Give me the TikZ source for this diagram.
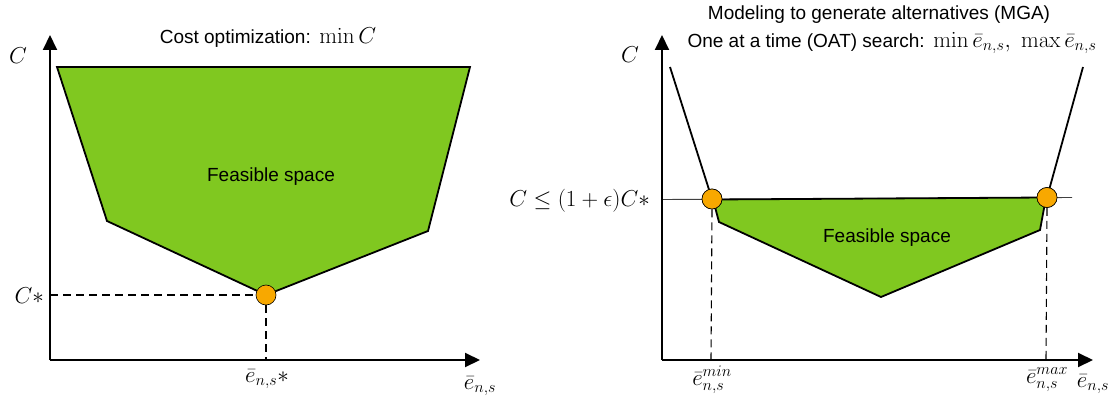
\RequirePackage{fix-cm}
\documentclass[tikz,border=0pt]{standalone}
\usepackage[no-math]{fontspec}
\setmainfont{Liberation Sans}
\usetikzlibrary{arrows.meta}
\definecolor{feas}{RGB}{128,200,32}
\definecolor{dotc}{RGB}{248,168,0}
\newcommand{\txt}[1]{{\fontsize{19}{22}\selectfont #1}}
\begin{document}
\begin{tikzpicture}[x=1pt,y=-1pt,
  axisline/.style={line width=2pt,-{Triangle[length=15pt,width=14pt]}},
  region/.style={fill=feas,draw=black,line width=1.8pt,line join=miter},
  bound/.style={line width=1.8pt},
  guide/.style={line width=1.1pt,dash pattern=on 8pt off 5pt},
  thinline/.style={line width=0.9pt,draw=black!75},
  dot/.style={circle,fill=dotc,draw=black,line width=0.6pt,minimum size=20pt,inner sep=0pt},
  mlabel/.style={font=\fontsize{23}{26}\selectfont,inner sep=0pt},
  tlabel/.style={font=\fontsize{23}{26}\selectfont,inner sep=0pt}
]
\useasboundingbox (0,0) rectangle (1111,401);

% ---------------- Left panel ----------------
\coordinate (LO) at (50,360);
\coordinate (LYt) at (50,35);
\coordinate (LXt) at (480,360);
\coordinate (a1) at (57,67);
\coordinate (a2) at (470,67);
\coordinate (a3) at (428,231);
\coordinate (a4) at (266,295);
\coordinate (a5) at (107,221);
\coordinate (LCs) at (50,295);
\coordinate (LXs) at (266,360);

\draw[region] (a1) -- (a2) -- (a3) -- (a4) -- (a5) -- cycle;
\node at (271,177) {\txt{Feasible space}};
\draw[axisline] (LO) -- (LYt);
\draw[axisline] (LO) -- (LXt);
\node[dot] (opt) at (266,295) {};
\draw[guide] (LCs) -- (opt.west);
\draw[guide] (opt.south) -- (LXs);

\node[tlabel] (ltitle) at (268,38) {\txt{Cost optimization:} $\min C$};
\node[mlabel] (lC) at (18,56) {$C$};
\node[mlabel,anchor=east] (lCs) at (44,296) {$C\ast$};
\node[mlabel] (lens) at (267,379) {$\bar e_{n,s}\ast$};
\node[mlabel] (lx) at (480,386) {$\bar e_{n,s}$};

% ---------------- Right panel ----------------
\coordinate (RO) at (662,360);
\coordinate (RYt) at (662,35);
\coordinate (RXt) at (1093,360);
\coordinate (h1) at (662,199.5);
\coordinate (h2) at (1072,197.5);
\coordinate (b1) at (713,199.5);
\coordinate (b2) at (1046,197.5);
\coordinate (b3) at (1040,230);
\coordinate (b4) at (881,297);
\coordinate (b5) at (719,222);
\coordinate (l1) at (670,67);
\coordinate (r1) at (1083,67);
\coordinate (dm) at (711,360);
\coordinate (dM) at (1046,360);

\draw[thinline] (h1) -- (h2);
\draw[region] (b1) -- (b2) -- (b3) -- (b4) -- (b5) -- cycle;
\node at (887,238) {\txt{Feasible space}};
\draw[axisline] (RO) -- (RYt);
\draw[axisline] (RO) -- (RXt);
\node[dot] (pmin) at (712,199) {};
\node[dot] (pmax) at (1047,197.5) {};
\draw[bound] (l1) -- (pmin.center);
\draw[bound] (r1) -- (pmax.center);
\node[dot] at (pmin) {};
\node[dot] at (pmax) {};
\draw[guide] (pmin.south) -- (dm);
\draw[guide] (pmax.south) -- (dM);

\node[font=\fontsize{19}{22}\selectfont,inner sep=0pt] (rt1) at (879,15) {Modeling to generate alternatives (MGA)};
\node[tlabel] (rt2) at (892,43) {\txt{One at a time (OAT) search:} $\min\bar e_{n,s},\ \max\bar e_{n,s}$};
\node[mlabel] (rC) at (630,55) {$C$};
\node[mlabel,anchor=east] (rCl) at (650,201) {$C\leq(1+\epsilon)C\ast$};
\node[mlabel] (emin) at (712,380) {$\bar e_{n,s}^{min}$};
\node[mlabel] (emax) at (1047,380) {$\bar e_{n,s}^{max}$};
\node[mlabel] (rx) at (1093,384) {$\bar e_{n,s}$};
\end{tikzpicture}
\end{document}
